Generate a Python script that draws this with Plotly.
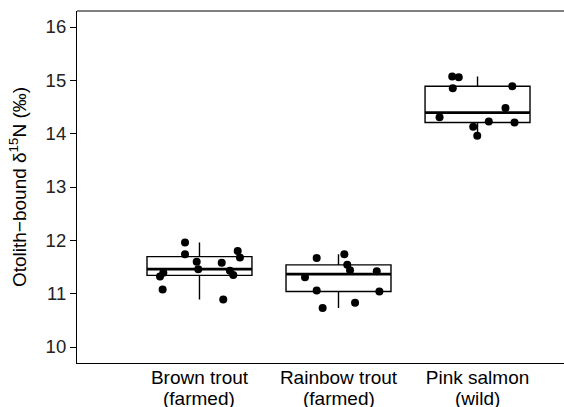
import numpy as np
import plotly.graph_objects as go

# otolith-bound d15N per group, with horizontal jitter offsets
groups = ["Brown trout", "Rainbow trout", "Pink salmon"]
origin = ["(farmed)", "(farmed)", "(wild)"]

brown = [11.96, 11.74, 11.60, 11.46, 11.58, 11.80, 11.68, 11.43, 11.35, 11.39, 11.32, 11.08, 10.89]
brown_jit = [-0.104, -0.104, -0.020, -0.009, 0.160, 0.275, 0.291, 0.219, 0.243, -0.260, -0.284, -0.265, 0.171]

rainbow = [11.67, 11.74, 11.54, 11.44, 11.42, 11.31, 11.06, 11.04, 10.73, 10.83]
rainbow_jit = [-0.157, 0.042, 0.063, 0.083, 0.275, -0.241, -0.157, 0.294, -0.114, 0.119]

pink = [15.07, 15.06, 14.85, 14.89, 14.48, 14.31, 14.23, 14.21, 14.13, 13.96]
pink_jit = [-0.182, -0.135, -0.178, 0.250, 0.201, -0.273, 0.081, 0.266, -0.031, -0.002]

yticks = [10, 11, 12, 13, 14, 15, 16]

values = [brown, rainbow, pink]
jitters = [brown_jit, rainbow_jit, pink_jit]
box_w = 0.755

fig = go.Figure()
for i, (vals, jit) in enumerate(zip(values, jitters)):
    fig.add_trace(go.Box(
        x=[i] * len(vals), y=vals, width=box_w, boxpoints=False,
        quartilemethod="linear", whiskerwidth=0,
        fillcolor="white", line=dict(color="black", width=1.4),
        showlegend=False, hoverinfo="skip"))
    med = float(np.median(vals))
    fig.add_trace(go.Scatter(
        x=[i - box_w / 2, i + box_w / 2], y=[med, med], mode="lines",
        line=dict(color="black", width=2.8), showlegend=False, hoverinfo="skip"))
for i, (vals, jit) in enumerate(zip(values, jitters)):
    fig.add_trace(go.Scatter(
        x=[i + j for j in jit], y=vals, mode="markers",
        marker=dict(color="black", size=8), showlegend=False))

# second line of the category labels (ggplot-style tight line spacing)
for i, txt in enumerate(origin):
    fig.add_annotation(x=i, xref="x", y=0, yref="paper", yanchor="middle",
                       yshift=-35, text=txt, showarrow=False,
                       font=dict(size=19, color="black"))

# top border of the panel
fig.add_shape(type="line", xref="paper", yref="paper", x0=0, x1=1, y0=1, y1=1,
              line=dict(color="black", width=1.2))

fig.update_layout(
    width=564, height=407,
    margin=dict(l=77, r=0, t=11, b=44),
    plot_bgcolor="white", paper_bgcolor="white",
    font=dict(family="Liberation Sans, Arial, sans-serif", size=17, color="black"),
)
fig.update_xaxes(
    range=[-0.881, 2.622], tickvals=[0, 1, 2], ticktext=groups,
    showline=True, linecolor="black", linewidth=1.2,
    showgrid=False, zeroline=False, ticks="", automargin=False,
    ticklabelstandoff=-3,
    tickfont=dict(size=19, color="black"))
fig.update_yaxes(
    range=[9.7, 16.3], tickvals=yticks, automargin=False,
    showline=True, linecolor="black", linewidth=1.2,
    showgrid=False, zeroline=False, ticks="outside", ticklen=6, tickcolor="black",
    tickfont=dict(size=18.5, color="#222"),
    title=dict(text="Otolith\u2212bound \u03b4<sup>15</sup>N (\u2030)", standoff=13,
               font=dict(size=19, color="black")))

# drop the default page margin and any scrollbar so the figure fills the window
fig.write_html("out.html", config={"displayModeBar": False},
               post_script="document.body.style.margin='0';"
                           "document.body.style.overflow='hidden';"
                           "document.documentElement.style.overflow='hidden';")
